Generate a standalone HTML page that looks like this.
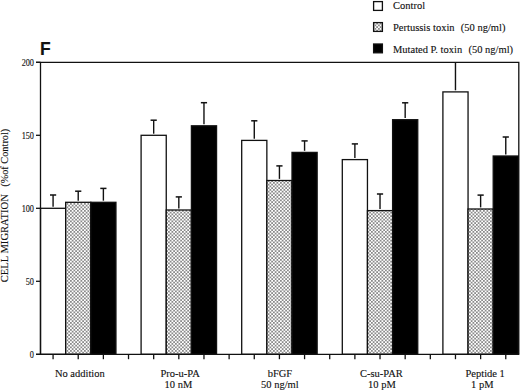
<!DOCTYPE html>
<html><head><meta charset="utf-8">
<style>
html,body{margin:0;padding:0;background:#fff;}
body{width:520px;height:391px;overflow:hidden;position:relative;}
svg{position:absolute;left:0;top:0;}
text{font-family:"Liberation Serif",serif;fill:#111;stroke:#111;stroke-width:0.12px;}
.F{font-family:"Liberation Sans",sans-serif;font-weight:bold;}
</style></head><body>
<svg width="520" height="391" viewBox="0 0 520 391">
<defs>
<pattern id="chk" patternUnits="userSpaceOnUse" width="3.5" height="3.5">
<rect width="3.5" height="3.5" fill="#fff"/>
<rect x="0.15" y="0.15" width="1.45" height="1.45" fill="#555"/>
<rect x="1.9" y="1.9" width="1.45" height="1.45" fill="#555"/>
</pattern>
</defs>
<line x1="53.08" y1="206.70" x2="53.08" y2="195.00" stroke="#111" stroke-width="1.4"/>
<line x1="49.98" y1="195.00" x2="56.18" y2="195.00" stroke="#111" stroke-width="1.5"/>
<rect x="40.50" y="208.30" width="25.15" height="146.00" fill="#fff" stroke="#111" stroke-width="1.3"/>
<line x1="78.22" y1="200.70" x2="78.22" y2="191.20" stroke="#111" stroke-width="1.4"/>
<line x1="75.12" y1="191.20" x2="81.32" y2="191.20" stroke="#111" stroke-width="1.5"/>
<rect x="65.65" y="202.30" width="25.15" height="152.00" fill="url(#chk)" stroke="#111" stroke-width="1.3"/>
<line x1="103.38" y1="200.70" x2="103.38" y2="188.40" stroke="#111" stroke-width="1.4"/>
<line x1="100.28" y1="188.40" x2="106.47" y2="188.40" stroke="#111" stroke-width="1.5"/>
<rect x="90.80" y="202.30" width="25.15" height="152.00" fill="#000" stroke="#111" stroke-width="1.3"/>
<line x1="153.68" y1="133.70" x2="153.68" y2="120.20" stroke="#111" stroke-width="1.4"/>
<line x1="150.58" y1="120.20" x2="156.78" y2="120.20" stroke="#111" stroke-width="1.5"/>
<rect x="141.10" y="135.30" width="25.15" height="219.00" fill="#fff" stroke="#111" stroke-width="1.3"/>
<line x1="178.82" y1="208.40" x2="178.82" y2="196.90" stroke="#111" stroke-width="1.4"/>
<line x1="175.72" y1="196.90" x2="181.92" y2="196.90" stroke="#111" stroke-width="1.5"/>
<rect x="166.25" y="210.00" width="25.15" height="144.30" fill="url(#chk)" stroke="#111" stroke-width="1.3"/>
<line x1="203.97" y1="124.20" x2="203.97" y2="102.70" stroke="#111" stroke-width="1.4"/>
<line x1="200.87" y1="102.70" x2="207.07" y2="102.70" stroke="#111" stroke-width="1.5"/>
<rect x="191.40" y="125.80" width="25.15" height="228.50" fill="#000" stroke="#111" stroke-width="1.3"/>
<line x1="254.28" y1="138.80" x2="254.28" y2="120.80" stroke="#111" stroke-width="1.4"/>
<line x1="251.18" y1="120.80" x2="257.38" y2="120.80" stroke="#111" stroke-width="1.5"/>
<rect x="241.70" y="140.40" width="25.15" height="213.90" fill="#fff" stroke="#111" stroke-width="1.3"/>
<line x1="279.43" y1="178.90" x2="279.43" y2="165.90" stroke="#111" stroke-width="1.4"/>
<line x1="276.32" y1="165.90" x2="282.53" y2="165.90" stroke="#111" stroke-width="1.5"/>
<rect x="266.85" y="180.50" width="25.15" height="173.80" fill="url(#chk)" stroke="#111" stroke-width="1.3"/>
<line x1="304.57" y1="150.80" x2="304.57" y2="140.90" stroke="#111" stroke-width="1.4"/>
<line x1="301.47" y1="140.90" x2="307.68" y2="140.90" stroke="#111" stroke-width="1.5"/>
<rect x="292.00" y="152.40" width="25.15" height="201.90" fill="#000" stroke="#111" stroke-width="1.3"/>
<line x1="354.88" y1="158.00" x2="354.88" y2="143.90" stroke="#111" stroke-width="1.4"/>
<line x1="351.77" y1="143.90" x2="357.98" y2="143.90" stroke="#111" stroke-width="1.5"/>
<rect x="342.30" y="159.60" width="25.15" height="194.70" fill="#fff" stroke="#111" stroke-width="1.3"/>
<line x1="380.02" y1="209.00" x2="380.02" y2="194.00" stroke="#111" stroke-width="1.4"/>
<line x1="376.92" y1="194.00" x2="383.12" y2="194.00" stroke="#111" stroke-width="1.5"/>
<rect x="367.45" y="210.60" width="25.15" height="143.70" fill="url(#chk)" stroke="#111" stroke-width="1.3"/>
<line x1="405.17" y1="118.10" x2="405.17" y2="102.80" stroke="#111" stroke-width="1.4"/>
<line x1="402.07" y1="102.80" x2="408.27" y2="102.80" stroke="#111" stroke-width="1.5"/>
<rect x="392.60" y="119.70" width="25.15" height="234.60" fill="#000" stroke="#111" stroke-width="1.3"/>
<line x1="455.47" y1="90.30" x2="455.47" y2="62.30" stroke="#111" stroke-width="1.4"/>
<rect x="442.90" y="91.90" width="25.15" height="262.40" fill="#fff" stroke="#111" stroke-width="1.3"/>
<line x1="480.62" y1="207.40" x2="480.62" y2="195.10" stroke="#111" stroke-width="1.4"/>
<line x1="477.52" y1="195.10" x2="483.73" y2="195.10" stroke="#111" stroke-width="1.5"/>
<rect x="468.05" y="209.00" width="25.15" height="145.30" fill="url(#chk)" stroke="#111" stroke-width="1.3"/>
<line x1="505.77" y1="154.40" x2="505.77" y2="137.00" stroke="#111" stroke-width="1.4"/>
<line x1="502.67" y1="137.00" x2="508.88" y2="137.00" stroke="#111" stroke-width="1.5"/>
<rect x="493.20" y="156.00" width="25.15" height="198.30" fill="#000" stroke="#111" stroke-width="1.3"/>
<path d="M36 62.3 H518.8 V354.3" fill="none" stroke="#111" stroke-width="1.3"/>
<line x1="40.5" y1="62.3" x2="40.5" y2="354.3" stroke="#111" stroke-width="1.3"/>
<line x1="36" y1="354.3" x2="519.3" y2="354.3" stroke="#111" stroke-width="1.3"/>
<line x1="36" y1="62.30" x2="40.5" y2="62.30" stroke="#111" stroke-width="1.3"/>
<line x1="36" y1="135.30" x2="40.5" y2="135.30" stroke="#111" stroke-width="1.3"/>
<line x1="36" y1="208.30" x2="40.5" y2="208.30" stroke="#111" stroke-width="1.3"/>
<line x1="36" y1="281.30" x2="40.5" y2="281.30" stroke="#111" stroke-width="1.3"/>
<line x1="36" y1="354.30" x2="40.5" y2="354.30" stroke="#111" stroke-width="1.3"/>
<line x1="53.08" y1="354.3" x2="53.08" y2="359.2" stroke="#111" stroke-width="1.3"/>
<line x1="78.22" y1="354.3" x2="78.22" y2="359.2" stroke="#111" stroke-width="1.3"/>
<line x1="103.38" y1="354.3" x2="103.38" y2="359.2" stroke="#111" stroke-width="1.3"/>
<line x1="128.52" y1="354.3" x2="128.52" y2="359.2" stroke="#111" stroke-width="1.3"/>
<line x1="153.68" y1="354.3" x2="153.68" y2="359.2" stroke="#111" stroke-width="1.3"/>
<line x1="178.82" y1="354.3" x2="178.82" y2="359.2" stroke="#111" stroke-width="1.3"/>
<line x1="203.97" y1="354.3" x2="203.97" y2="359.2" stroke="#111" stroke-width="1.3"/>
<line x1="229.12" y1="354.3" x2="229.12" y2="359.2" stroke="#111" stroke-width="1.3"/>
<line x1="254.27" y1="354.3" x2="254.27" y2="359.2" stroke="#111" stroke-width="1.3"/>
<line x1="279.42" y1="354.3" x2="279.42" y2="359.2" stroke="#111" stroke-width="1.3"/>
<line x1="304.57" y1="354.3" x2="304.57" y2="359.2" stroke="#111" stroke-width="1.3"/>
<line x1="329.72" y1="354.3" x2="329.72" y2="359.2" stroke="#111" stroke-width="1.3"/>
<line x1="354.88" y1="354.3" x2="354.88" y2="359.2" stroke="#111" stroke-width="1.3"/>
<line x1="380.02" y1="354.3" x2="380.02" y2="359.2" stroke="#111" stroke-width="1.3"/>
<line x1="405.17" y1="354.3" x2="405.17" y2="359.2" stroke="#111" stroke-width="1.3"/>
<line x1="430.32" y1="354.3" x2="430.32" y2="359.2" stroke="#111" stroke-width="1.3"/>
<line x1="455.47" y1="354.3" x2="455.47" y2="359.2" stroke="#111" stroke-width="1.3"/>
<line x1="480.62" y1="354.3" x2="480.62" y2="359.2" stroke="#111" stroke-width="1.3"/>
<line x1="505.77" y1="354.3" x2="505.77" y2="359.2" stroke="#111" stroke-width="1.3"/>
<text x="34.0" y="65.70" text-anchor="end" font-size="9.6" transform="translate(34.0 0) scale(0.86 1) translate(-34.0 0)">200</text>
<text x="34.0" y="138.70" text-anchor="end" font-size="9.6" transform="translate(34.0 0) scale(0.86 1) translate(-34.0 0)">150</text>
<text x="34.0" y="211.70" text-anchor="end" font-size="9.6" transform="translate(34.0 0) scale(0.86 1) translate(-34.0 0)">100</text>
<text x="34.0" y="284.70" text-anchor="end" font-size="9.6" transform="translate(34.0 0) scale(0.86 1) translate(-34.0 0)">50</text>
<text x="34.0" y="357.70" text-anchor="end" font-size="9.6" transform="translate(34.0 0) scale(0.86 1) translate(-34.0 0)">0</text>
<text class="F" x="40" y="54.6" font-size="17.5">F</text>
<!-- legend -->
<rect x="373.6" y="1.6" width="8.8" height="8.8" fill="#fff" stroke="#111" stroke-width="1.3"/>
<rect x="373.6" y="22.6" width="8.8" height="8.8" fill="url(#chk)" stroke="#111" stroke-width="1.3"/>
<rect x="373.6" y="44" width="8.8" height="8.8" fill="#000" stroke="#111" stroke-width="1.3"/>
<text x="393" y="9.2" font-size="10.5">Control</text>
<text x="393" y="30.5" font-size="10.5">Pertussis toxin</text>
<text x="460.8" y="30.5" font-size="10.5">(50 ng/ml)</text>
<text x="393" y="52.6" font-size="10.5">Mutated P. toxin</text>
<text x="468.5" y="52.6" font-size="10.5">(50 ng/ml)</text>
<!-- y title -->
<text transform="translate(8.3 282.3) rotate(-90)" font-size="10.6">CELL MIGRATION</text>
<text transform="translate(8.3 186.8) rotate(-90)" font-size="10.3">(%of Control)</text>
<!-- x labels -->
<text x="54.9" y="376.6" font-size="10.5">No addition</text>
<text x="160.5" y="376.6" font-size="10.5">Pro-u-PA</text>
<text x="164.6" y="387.7" font-size="10.5">10 nM</text>
<text x="267.7" y="376.6" font-size="10.5">bFGF</text>
<text x="261" y="387.7" font-size="10.5">50 ng/ml</text>
<text x="360" y="376.6" font-size="10.5">C-su-PAR</text>
<text x="368.1" y="387.7" font-size="10.5">10 pM</text>
<text x="465.5" y="376.6" font-size="10.5">Peptide 1</text>
<text x="471.0" y="387.7" font-size="10.5">1 pM</text>
</svg>
</body></html>
